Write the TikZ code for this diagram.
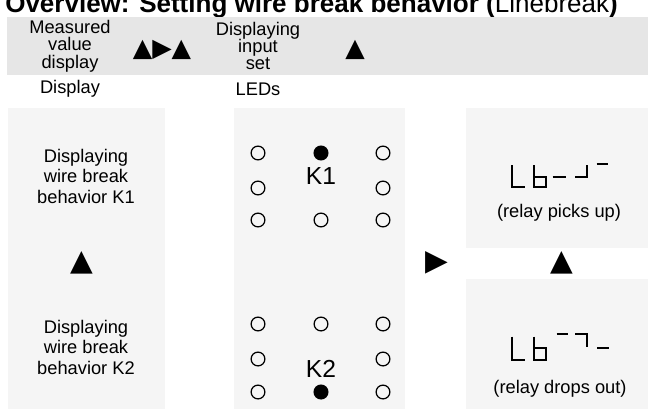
\documentclass[tikz,border=0pt]{standalone}
\usepackage{fontspec}
\setmainfont{Liberation Sans}
\newfontfamily\symfont{DejaVu Sans}
\definecolor{bandgray}{HTML}{E6E6E6}
\definecolor{panelgray}{HTML}{F5F5F5}

\begin{document}
\begin{tikzpicture}[x=0.025cm,y=-0.025cm,
    panel/.style={fill=panelgray,draw=none},
    lbl/.style={align=center,font=\fontsize{13}{14.6}\selectfont,inner sep=0pt},
    headlbl/.style={lbl,font=\fontsize{13}{12.4}\selectfont},
    klbl/.style={lbl,font=\fontsize{17.5}{17.5}\selectfont},
    led/.style={circle,draw,line width=0.9pt,minimum size=9.8pt,inner sep=0pt},
    ledon/.style={led,fill=black},
    tri/.style={font=\symfont\fontsize{18}{18}\selectfont,inner sep=0pt},
    bigtri/.style={font=\symfont\fontsize{21}{21}\selectfont,inner sep=0pt},
    seg/.style={line width=1.6pt}]
    \useasboundingbox (0,0) rectangle (648,410);
    % Title (cut at the top)
    \node[anchor=base west,inner sep=0pt,font=\bfseries\fontsize{18.5}{18.5}\selectfont] (title) at (5,12)
        {Overview: Setting wire break behavior ({\mdseries Linebreak})};
    % Header band
    \fill[bandgray] (7,17) rectangle (648,75);
    \node[headlbl] (measured) at (70,46) {Measured\\value\\display};
    \node[tri] (keysA) at (162,50) {▲▶▲};
    \node[headlbl] (inputset) at (258,46) {Displaying\\input\\set};
    \node[tri] (keysB) at (355,50) {▲};
    \node[lbl] (display) at (70,89) {Display};
    \node[lbl] (leds) at (258,89) {LEDs};
    % Panels
    \fill[panel] (8,108) rectangle (165,409);
    \fill[panel] (234,108) rectangle (405,409);
    \fill[panel] (466,108) rectangle (648,248);
    \fill[panel] (466,279) rectangle (648,409);
    % Left column
    \node[lbl] (showK1) at (86,176) {Displaying\\wire break\\behavior K1};
    \node[bigtri] (upL) at (82,263) {▲};
    \node[lbl] (showK2) at (86,347) {Displaying\\wire break\\behavior K2};
    % LEDs for K1
    \node[led] (a1) at (258,153) {};
    \node[ledon] (a2) at (321,153) {};
    \node[led] (a3) at (383,153) {};
    \node[led] (a4) at (258,188) {};
    \node[klbl] (k1) at (321,176) {K1};
    \node[led] (a6) at (383,188) {};
    \node[led] (a7) at (258,220) {};
    \node[led] (a8) at (321,220) {};
    \node[led] (a9) at (383,220) {};
    % LEDs for K2
    \node[led] (b1) at (258,324) {};
    \node[led] (b2) at (321,324) {};
    \node[led] (b3) at (383,324) {};
    \node[led] (b4) at (258,359) {};
    \node[klbl] (k2) at (321,369) {K2};
    \node[led] (b6) at (383,359) {};
    \node[led] (b7) at (258,392) {};
    \node[ledon] (b8) at (321,392) {};
    \node[led] (b9) at (383,392) {};
    % Keys between panels
    \node[bigtri] (rightM) at (437,263) {▶};
    \node[bigtri] (upR) at (562,263) {▲};
    % Display "Lb-" relay picks up
    \draw[seg] (511.7,165) -- (511.7,187.3) -- (525,187.3);
    \draw[seg] (534,165) -- (534,187.3) -- (546,187.3) -- (546,176.7) -- (534,176.7);
    \draw[seg] (552.7,176.7) -- (566,176.7);
    \draw[seg] (575,176.7) -- (586.7,176.7) -- (586.7,165);
    \draw[seg] (596.7,164) -- (608.3,164);
    \node[lbl] (pickup) at (559,213) {(relay picks up)};
    % Display "Lb-" relay drops out
    \draw[seg] (511.7,336.7) -- (511.7,360) -- (525,360);
    \draw[seg] (534,336.7) -- (534,360) -- (546,360) -- (546,348.3) -- (534,348.3);
    \draw[seg] (556.7,334) -- (568.3,334);
    \draw[seg] (575,334) -- (586.7,334) -- (586.7,346.7);
    \draw[seg] (597.3,348.3) -- (609,348.3);
    \node[lbl] (dropout) at (560,389) {(relay drops out)};
\end{tikzpicture}
\end{document}
